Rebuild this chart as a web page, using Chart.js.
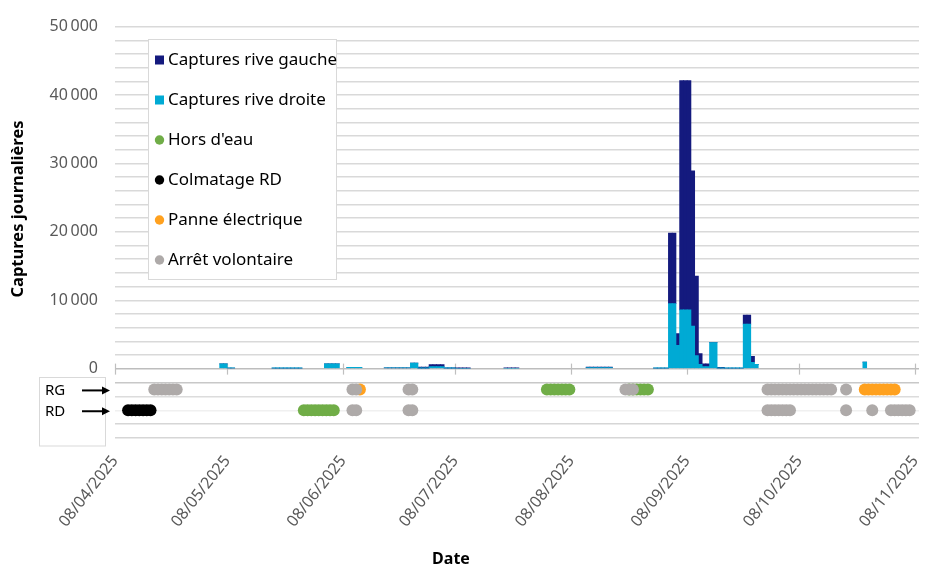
<!DOCTYPE html>
<html lang="fr">
<head>
<meta charset="utf-8">
<title>Captures journalières</title>
<script src="https://cdn.jsdelivr.net/npm/chart.js@4.4.1/dist/chart.umd.min.js"></script>
<style>
  html, body { margin: 0; padding: 0; background: #ffffff; }
  #wrap { width: 925px; height: 568px; position: relative; }
</style>
</head>
<body>
<div id="wrap"><canvas id="chart" width="925" height="568"></canvas></div>
<script>
// ---- Period and axis labels ----
const PERIOD_START = '08/04/2025';
const tickLabels = ['08/04/2025', '08/05/2025', '08/06/2025', '08/07/2025',
                    '08/08/2025', '08/09/2025', '08/10/2025', '08/11/2025'];
const yLabelTicks = [0, 10000, 20000, 30000, 40000, 50000];
const yGridStep = 2000;

// ---- Daily catches (dd/mm, 2025) ----
const captureDates = [
  '06/05', '07/05', '08/05', '09/05',
  '20/05', '21/05', '22/05', '23/05', '24/05', '25/05', '26/05', '27/05',
  '03/06', '04/06', '05/06', '06/06',
  '09/06', '10/06', '11/06', '12/06',
  '19/06', '20/06', '21/06', '22/06', '23/06', '24/06', '25/06',
  '26/06', '27/06', '28/06', '29/06', '30/06',
  '01/07', '02/07', '03/07', '04/07', '05/07', '06/07', '07/07',
  '08/07', '09/07', '10/07', '11/07',
  '21/07', '22/07', '23/07', '24/07',
  '12/08', '13/08', '14/08', '15/08', '16/08', '17/08', '18/08',
  '30/08', '31/08', '01/09', '02/09',
  '03/09', '04/09', '05/09', '06/09', '07/09', '08/09', '09/09', '10/09',
  '11/09', '12/09', '13/09', '14/09', '15/09', '16/09', '17/09',
  '18/09', '19/09', '20/09', '21/09', '22/09',
  '23/09', '24/09', '25/09', '26/09',
  '25/10'
];
const capturesRG = [
  0, 0, 0, 0,
  30, 30, 30, 30, 30, 30, 30, 30,
  0, 0, 0, 0,
  0, 0, 0, 0,
  0, 0, 0, 0, 0, 0, 0,
  0, 0, 150, 150, 150,
  280, 280, 280, 280, 80, 80, 80,
  40, 40, 40, 40,
  100, 100, 100, 100,
  50, 50, 50, 50, 50, 50, 50,
  60, 60, 60, 60,
  10300, 10300, 1700, 33500, 33500, 33500, 22700, 11600,
  1600, 400, 400, 0, 0, 150, 150,
  50, 50, 50, 50, 50,
  1300, 1300, 900, 0,
  0
];
const capturesRD = [
  700, 700, 80, 80,
  40, 40, 40, 40, 40, 40, 40, 40,
  700, 700, 700, 700,
  180, 180, 180, 180,
  100, 100, 100, 100, 100, 100, 100,
  800, 800, 50, 50, 50,
  300, 300, 300, 300, 30, 30, 30,
  0, 0, 0, 0,
  0, 0, 0, 0,
  150, 150, 150, 150, 150, 150, 150,
  20, 20, 20, 20,
  9500, 9500, 3400, 8600, 8600, 8600, 6200, 1900,
  600, 300, 300, 3800, 3800, 30, 30,
  20, 20, 20, 20, 20,
  6500, 6500, 900, 600,
  950
];

// ---- Trap status days (dd/mm, 2025) ----
const horsEauRG = ['01/08', '02/08', '03/08', '04/08', '05/08', '06/08', '07/08',
                   '23/08', '24/08', '25/08', '26/08', '27/08', '28/08'];
const horsEauRD = ['28/05', '29/05', '30/05', '31/05', '01/06', '02/06', '03/06', '04/06', '05/06'];
const colmatageRD = ['11/04', '12/04', '13/04', '14/04', '15/04', '16/04', '17/04'];
const panneRG = ['12/06', '25/10', '26/10', '27/10', '28/10', '29/10', '30/10', '31/10', '01/11', '02/11'];
const arretRG = ['18/04', '19/04', '20/04', '21/04', '22/04', '23/04', '24/04',
                 '10/06', '11/06', '25/06', '26/06',
                 '22/08', '23/08', '24/08',
                 '29/09', '30/09', '01/10', '02/10', '03/10', '04/10', '05/10', '06/10',
                 '07/10', '08/10', '09/10', '10/10', '11/10', '12/10', '13/10', '14/10',
                 '15/10', '16/10', '20/10'];
const arretRD = ['10/06', '11/06', '25/06', '26/06',
                 '29/09', '30/09', '01/10', '02/10', '03/10', '04/10', '05/10',
                 '20/10', '27/10',
                 '01/11', '02/11', '03/11', '04/11', '05/11', '06/11'];

// ---- Colours ----
const NAVY = '#141a7e';
const CYAN = '#00aad4';
const GREEN = '#70ad47';
const BLACK = '#000000';
const ORANGE = '#ffa11f';
const GREY = '#aeaaa9';

// ---- Helpers ----
function dayIndex(label) {
  const [d0, m0, y0] = PERIOD_START.split('/').map(Number);
  const parts = label.split('/').map(Number);
  const year = parts[2] || y0;
  return Math.round((Date.UTC(year, parts[1] - 1, parts[0]) - Date.UTC(y0, m0 - 1, d0)) / 86400000);
}
function formatThousands(v) {
  return String(v).replace(/\B(?=(\d{3})+(?!\d))/g, '\u202F');
}
// status rows on the lower panel
const ROW = { RG: 3.5, RD: 2 };
function statusPoints(rgDays, rdDays) {
  return rgDays.map(s => ({ x: dayIndex(s) + 0.5, y: ROW.RG }))
    .concat(rdDays.map(s => ({ x: dayIndex(s) + 0.5, y: ROW.RD })));
}
function barPoints(values) {
  return captureDates.map((s, i) => ({ x: dayIndex(s) + 0.5, y: values[i] }));
}

Chart.defaults.font.family = "'Noto Sans', 'DejaVu Sans', sans-serif";

const statusStyle = (color) => ({
  type: 'scatter',
  yAxisID: 'y2',
  backgroundColor: color,
  borderColor: color,
  borderWidth: 0,
  pointRadius: 6,
  pointHoverRadius: 6
});

const barStyle = (color) => ({
  yAxisID: 'y',
  backgroundColor: color,
  barPercentage: 1,
  categoryPercentage: 1,
  borderWidth: 0,
  inflateAmount: 0.4
});

// Overlay: zero-line tick marks, legend box, RG/RD key and axis titles
const overlay = {
  id: 'overlay',
  beforeDatasetsDraw(chart) {
    const { ctx, scales: { x, y } } = chart;
    const y0 = y.getPixelForValue(0);
    ctx.save();
    ctx.strokeStyle = '#bfbfbf';
    ctx.lineWidth = 1.2;
    x.ticks.forEach(t => {
      const px = Math.round(x.getPixelForValue(t.value)) + 0.5;
      ctx.beginPath();
      ctx.moveTo(px, y0 - 5);
      ctx.lineTo(px, y0 + 6);
      ctx.stroke();
    });
    ctx.restore();
  },
  afterDraw(chart) {
    const { ctx, scales: { y2 } } = chart;
    ctx.save();

    // legend
    ctx.fillStyle = '#ffffff';
    ctx.fillRect(148, 39, 189, 241);
    ctx.strokeStyle = '#d9d9d9';
    ctx.lineWidth = 1;
    ctx.strokeRect(148.5, 39.5, 188, 240);
    ctx.font = "17px 'Noto Sans'";
    ctx.textBaseline = 'middle';
    ctx.textAlign = 'left';
    chart.data.datasets.forEach((ds, i) => {
      const cy = 60 + i * 40;
      ctx.fillStyle = ds.backgroundColor;
      if (ds.type === 'scatter') {
        ctx.beginPath();
        ctx.arc(159.5, cy, 4.7, 0, Math.PI * 2);
        ctx.fill();
      } else {
        ctx.fillRect(155, cy - 4.5, 9, 9);
      }
      ctx.fillStyle = '#000000';
      ctx.fillText(ds.label, 168, cy);
    });

    // RG / RD key
    ctx.fillStyle = '#ffffff';
    ctx.fillRect(39.5, 377.5, 66, 68.5);
    ctx.strokeStyle = '#d9d9d9';
    ctx.strokeRect(39.5, 377.5, 66, 68.5);
    ctx.font = "15px 'Noto Sans'";
    ctx.fillStyle = '#000000';
    ctx.strokeStyle = '#000000';
    ctx.lineWidth = 2;
    [['RG', ROW.RG], ['RD', ROW.RD]].forEach(([name, row]) => {
      const py = y2.getPixelForValue(row) + 1;
      ctx.fillText(name, 45, py);
      ctx.beginPath();
      ctx.moveTo(82, py);
      ctx.lineTo(104, py);
      ctx.stroke();
      ctx.beginPath();
      ctx.moveTo(110, py);
      ctx.lineTo(102, py - 4);
      ctx.lineTo(102, py + 4);
      ctx.closePath();
      ctx.fill();
    });

    // axis titles
    ctx.font = "bold 16.5px 'Noto Sans'";
    ctx.textAlign = 'center';
    ctx.fillStyle = '#000000';
    ctx.save();
    ctx.translate(18, 209);
    ctx.rotate(-Math.PI / 2);
    ctx.fillText('Captures journalières', 0, 0);
    ctx.restore();
    ctx.font = "bold 16px 'Noto Sans'";
    ctx.fillText('Date', 451, 559);

    ctx.restore();
  }
};

const lowerGrid = { 5: 'rgba(0,0,0,0)', 4: '#c8c8c8', 3: '#dcdcdc', 2: '#f0f0f0', 1: '#d6d6d6', 0: '#d6d6d6' };

new Chart(document.getElementById('chart'), {
  type: 'bar',
  data: {
    datasets: [
      Object.assign({ label: 'Captures rive gauche', data: barPoints(capturesRG), order: 5 }, barStyle(NAVY)),
      Object.assign({ label: 'Captures rive droite', data: barPoints(capturesRD), order: 4 }, barStyle(CYAN)),
      Object.assign({ label: "Hors d'eau", data: statusPoints(horsEauRG, horsEauRD), order: 2 }, statusStyle(GREEN)),
      Object.assign({ label: 'Colmatage RD', data: statusPoints([], colmatageRD), order: 3 }, statusStyle(BLACK)),
      Object.assign({ label: 'Panne électrique', data: statusPoints(panneRG, []), order: 1 }, statusStyle(ORANGE)),
      Object.assign({ label: 'Arrêt volontaire', data: statusPoints(arretRG, arretRD), order: 0 }, statusStyle(GREY))
    ]
  },
  options: {
    responsive: false,
    animation: false,
    devicePixelRatio: 1,
    events: [],
    layout: { padding: { top: 23, left: 0, right: 0, bottom: 0 } },
    plugins: { legend: { display: false }, tooltip: { enabled: false } },
    scales: {
      x: {
        type: 'linear',
        min: 0,
        max: 215,
        offset: false,
        stacked: true,
        grid: { display: false, drawTicks: false, offset: false },
        border: { display: false },
        afterBuildTicks: s => { s.ticks = tickLabels.map(l => ({ value: dayIndex(l) })); },
        afterFit: s => { s.height = 130; s.paddingLeft = 0; s.paddingRight = 0; },
        ticks: {
          autoSkip: false,
          minRotation: 52,
          maxRotation: 52,
          padding: 14,
          color: '#595959',
          font: { size: 16 },
          callback: (v, i) => tickLabels[i]
        }
      },
      y: {
        type: 'linear',
        position: 'left',
        stack: 'panel',
        stackWeight: 345,
        weight: 1,
        stacked: true,
        min: 0,
        max: 50000,
        afterBuildTicks: s => {
          const t = [];
          for (let v = 0; v <= 50000; v += yGridStep) t.push({ value: v });
          s.ticks = t;
        },
        afterFit: s => { s.width = 115; },
        grid: {
          drawTicks: false,
          lineWidth: 1.4,
          color: c => (c.tick && c.tick.value === 0) ? '#bdbdbd' : '#d9d9d9'
        },
        border: { display: false },
        ticks: {
          autoSkip: false,
          padding: 17,
          color: '#595959',
          font: { size: 16 },
          callback: v => yLabelTicks.includes(v) ? formatThousands(v) : ''
        }
      },
      y2: {
        type: 'linear',
        position: 'left',
        stack: 'panel',
        stackWeight: 70,
        weight: 0,
        min: 0,
        max: 5,
        afterBuildTicks: s => { s.ticks = [0, 1, 2, 3, 4, 5].map(v => ({ value: v })); },
        afterFit: s => { s.width = 115; },
        grid: {
          drawTicks: false,
          lineWidth: 1.4,
          color: c => lowerGrid[c.tick ? c.tick.value : 0]
        },
        border: { display: false },
        ticks: { display: false }
      }
    }
  },
  plugins: [overlay]
});
</script>
</body>
</html>
